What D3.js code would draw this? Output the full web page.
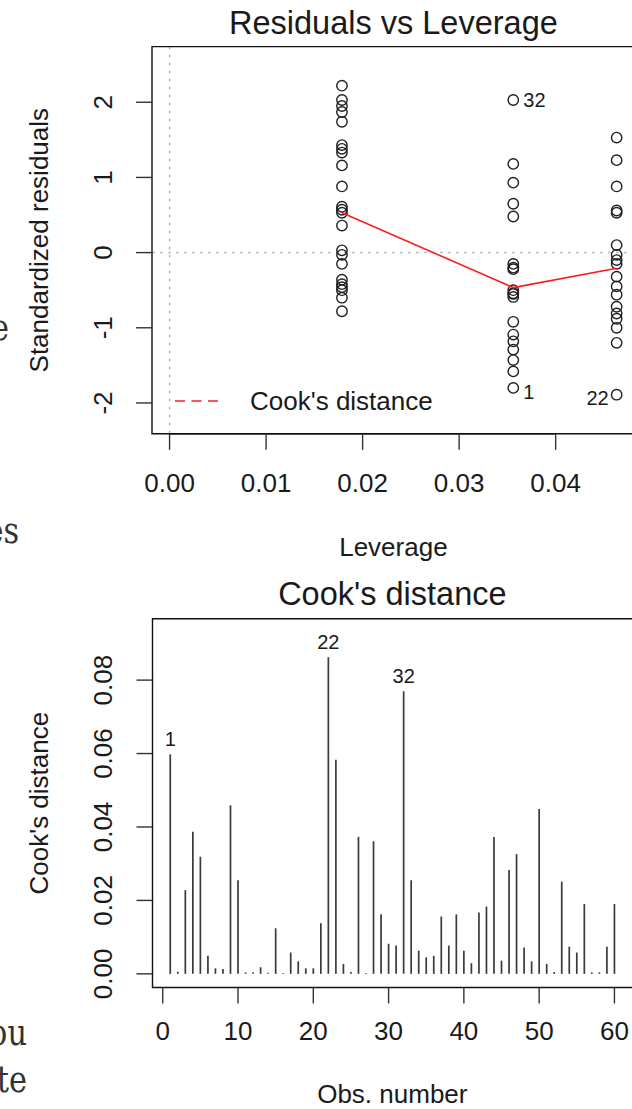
<!DOCTYPE html>
<html>
<head>
<meta charset="utf-8">
<script src="https://cdn.jsdelivr.net/npm/d3@7/dist/d3.min.js"></script>
<style>
  html, body { margin: 0; padding: 0; background: #fff; }
  svg { display: block; }
  text { font-family: "Liberation Sans", Arial, Helvetica, sans-serif; fill: #1a1a1a; }
  .frag { font-family: "DejaVu Serif", "Liberation Serif", serif; fill: #333; }
</style>
</head>
<body>
<svg id="chart" width="632" height="1109"></svg>
<script>
// ---------------- DATA ----------------
// Residuals vs Leverage
const groupLeverage = [0.01786, 0.03561, 0.04632];
const group1Resid = [2.22, 2.03, 1.95, 1.87, 1.74, 1.43, 1.38, 1.33, 1.16, 0.88, 0.61, 0.57, 0.53, 0.36,
                     0.03, -0.03, -0.15, -0.36, -0.42, -0.46, -0.50, -0.60, -0.78];
const group2Resid = [2.03, 1.18, 0.93, 0.65, 0.48, -0.15, -0.20, -0.22, -0.50, -0.54, -0.55, -0.59,
                     -0.92, -1.09, -1.18, -1.29, -1.43, -1.58, -1.80];
const group3Resid = [1.53, 1.23, 0.88, 0.56, 0.53, 0.10, -0.03, -0.10, -0.15, -0.32, -0.45, -0.56,
                     -0.72, -0.81, -0.88, -1.00, -1.20, -1.89];
const smoothLeverage = [0.01786, 0.03561, 0.04632];
const smoothResid = [0.53, -0.465, -0.207];
const residIds = ["32", "1", "22"];
const residIdLeverage = [0.03561, 0.03561, 0.04632];
const residIdValues = [2.03, -1.80, -1.89];
const leverageTicks = [0, 0.01, 0.02, 0.03, 0.04];
const residTicks = [-2, -1, 0, 1, 2];

// Cook's distance
const cooksDistance = [
  0.0598, 0.0006, 0.0228, 0.0387, 0.0319, 0.0049, 0.0015, 0.0013, 0.0459, 0.0255,
  0.0004, 0.0004, 0.0018, 0.0003, 0.0124, 0.0002, 0.0058, 0.0034, 0.0015, 0.0015,
  0.0138, 0.0862, 0.0583, 0.0027, 0.0005, 0.0373, 0.0002, 0.0361, 0.0162, 0.0082,
  0.0077, 0.0770, 0.0255, 0.0063, 0.0045, 0.0049, 0.0156, 0.0077, 0.0162, 0.0063,
  0.0029, 0.0167, 0.0183, 0.0373, 0.0036, 0.0283, 0.0326, 0.0072, 0.0034, 0.0449,
  0.0027, 0.0005, 0.0251, 0.0074, 0.0058, 0.0190, 0.0004, 0.0004, 0.0074, 0.0190
];
const cookIds = [1, 22, 32];
const obsTicks = [0, 10, 20, 30, 40, 50, 60];
const cookTicks = [0, 0.02, 0.04, 0.06, 0.08];

// ---------------- DRAW ----------------
const svg = d3.select("#chart");
const FS = 26;

// background page fragments (cropped text behind the charts)
const frags = [
  {t: "e", x: 9, y: 340},
  {t: "es", x: 19, y: 543},
  {t: "ou", x: 27, y: 1045},
  {t: "te", x: 27, y: 1092}
];
frags.forEach(f => {
  svg.append("text").attr("class", "frag")
    .attr("transform", `translate(${f.x},${f.y}) scale(0.8,1)`)
    .attr("text-anchor", "end").attr("font-size", 38).text(f.t);
});

function frame(g, x0, x1, y0, y1) {
  const p = `M${x1},${y0}H${x0}V${y1}H${x1}`;
  g.append("path").attr("d", p).attr("fill", "none").attr("stroke", "#111").attr("stroke-width", 1.4);
}

// ===== Panel 1: Residuals vs Leverage =====
{
  const x = d3.scaleLinear().domain([-0.00182, 0.0482]).range([152, 634.8]);
  const y = d3.scaleLinear().domain([-2.41, 2.74]).range([433.8, 46.6]);
  const g = svg.append("g");
  const [xa, xb] = x.range(), [ya, yb] = y.range();

  // reference dotted lines
  g.append("line").attr("x1", xa).attr("x2", xb).attr("y1", y(0)).attr("y2", y(0))
    .attr("stroke", "#bdbdbd").attr("stroke-width", 1.5).attr("stroke-dasharray", "3,5");
  g.append("line").attr("x1", x(0)).attr("x2", x(0)).attr("y1", yb).attr("y2", ya)
    .attr("stroke", "#bdbdbd").attr("stroke-width", 1.5).attr("stroke-dasharray", "3,5");

  // points
  const pts = [];
  [group1Resid, group2Resid, group3Resid].forEach((arr, i) =>
    arr.forEach(v => pts.push([groupLeverage[i], v])));
  g.selectAll("circle.pt").data(pts).enter().append("circle")
    .attr("cx", d => x(d[0])).attr("cy", d => y(d[1])).attr("r", 5.2)
    .attr("fill", "none").attr("stroke", "#1f1f1f").attr("stroke-width", 1.4);

  // smoother
  const line = d3.line().x(d => x(d[0])).y(d => y(d[1]));
  g.append("path").datum(smoothLeverage.map((l, i) => [l, smoothResid[i]]))
    .attr("d", line).attr("fill", "none").attr("stroke", "#ff1a1a").attr("stroke-width", 1.6);

  // id labels
  const idOff = [[10, 0, "start"], [10, 4.5, "start"], [-8, 3.5, "end"]];
  residIds.forEach((t, i) => {
    g.append("text").attr("x", x(residIdLeverage[i]) + idOff[i][0])
      .attr("y", y(residIdValues[i]) + idOff[i][1]).attr("dy", "0.35em")
      .attr("text-anchor", idOff[i][2]).attr("font-size", 20).text(t);
  });

  // legend
  g.append("line").attr("x1", 175).attr("x2", 219).attr("y1", 401).attr("y2", 401)
    .attr("stroke", "#ff1a1a").attr("stroke-width", 1.6).attr("stroke-dasharray", "10,6.5");
  g.append("text").attr("x", 250).attr("y", 401).attr("dy", "0.35em")
    .attr("font-size", FS).text("Cook's distance");

  frame(g, xa, xb, yb, ya);

  // x axis
  const ax = g.append("g");
  ax.append("line").attr("x1", x(leverageTicks[0])).attr("x2", x(leverageTicks[leverageTicks.length - 1]))
    .attr("y1", ya).attr("y2", ya).attr("stroke", "#111").attr("stroke-width", 1.4);
  leverageTicks.forEach(t => {
    ax.append("line").attr("x1", x(t)).attr("x2", x(t)).attr("y1", ya).attr("y2", ya + 16)
      .attr("stroke", "#333").attr("stroke-width", 1.4);
    ax.append("text").attr("x", x(t)).attr("y", 492).attr("text-anchor", "middle")
      .attr("font-size", FS).text(d3.format(".2f")(t));
  });
  // y axis
  residTicks.forEach(t => {
    g.append("line").attr("x1", xa - 16).attr("x2", xa).attr("y1", y(t)).attr("y2", y(t))
      .attr("stroke", "#333").attr("stroke-width", 1.4);
    g.append("text").attr("transform", `translate(103,${y(t)}) rotate(-90)`).attr("dy", "0.35em")
      .attr("text-anchor", "middle").attr("font-size", FS).text(t);
  });

  // titles
  svg.append("text").attr("x", (xa + xb) / 2).attr("y", 34).attr("text-anchor", "middle")
    .attr("font-size", 32.5).text("Residuals vs Leverage");
  svg.append("text").attr("x", (xa + xb) / 2).attr("y", 556).attr("text-anchor", "middle")
    .attr("font-size", FS).text("Leverage");
  svg.append("text").attr("transform", `translate(38.5,${(ya + yb) / 2}) rotate(-90)`).attr("dy", "0.35em")
    .attr("text-anchor", "middle").attr("font-size", FS).text("Standardized residuals");
}

// ===== Panel 2: Cook's distance =====
{
  const x = d3.scaleLinear().domain([-1.36, 62.36]).range([152.5, 632.2]);
  const y = d3.scaleLinear().domain([-0.00372, 0.0967]).range([987.5, 618.8]);
  const g = svg.append("g");
  const [xa, xb] = x.range(), [ya, yb] = y.range();

  g.selectAll("line.bar").data(cooksDistance).enter().append("line")
    .attr("x1", (d, i) => x(i + 1)).attr("x2", (d, i) => x(i + 1))
    .attr("y1", y(0)).attr("y2", d => y(d))
    .attr("stroke", "#3a3a3a").attr("stroke-width", 1.7);

  cookIds.forEach(id => {
    g.append("text").attr("x", x(id)).attr("y", y(cooksDistance[id - 1]) - 15).attr("dy", "0.35em")
      .attr("text-anchor", "middle").attr("font-size", 20).text(id);
  });

  frame(g, xa, xb, yb, ya);

  obsTicks.forEach(t => {
    g.append("line").attr("x1", x(t)).attr("x2", x(t)).attr("y1", ya).attr("y2", ya + 16)
      .attr("stroke", "#333").attr("stroke-width", 1.4);
    g.append("text").attr("x", x(t)).attr("y", 1040).attr("text-anchor", "middle")
      .attr("font-size", FS).text(t);
  });
  cookTicks.forEach(t => {
    g.append("line").attr("x1", xa - 16).attr("x2", xa).attr("y1", y(t)).attr("y2", y(t))
      .attr("stroke", "#333").attr("stroke-width", 1.4);
    g.append("text").attr("transform", `translate(103,${y(t)}) rotate(-90)`).attr("dy", "0.35em")
      .attr("text-anchor", "middle").attr("font-size", FS).text(d3.format(".2f")(t));
  });

  svg.append("text").attr("x", (xa + xb) / 2).attr("y", 605).attr("text-anchor", "middle")
    .attr("font-size", 32.5).text("Cook's distance");
  svg.append("text").attr("x", (xa + xb) / 2).attr("y", 1103).attr("text-anchor", "middle")
    .attr("font-size", FS).text("Obs. number");
  svg.append("text").attr("transform", `translate(38.5,${(ya + yb) / 2}) rotate(-90)`).attr("dy", "0.35em")
    .attr("text-anchor", "middle").attr("font-size", FS).text("Cook's distance");
}
</script>
</body>
</html>
